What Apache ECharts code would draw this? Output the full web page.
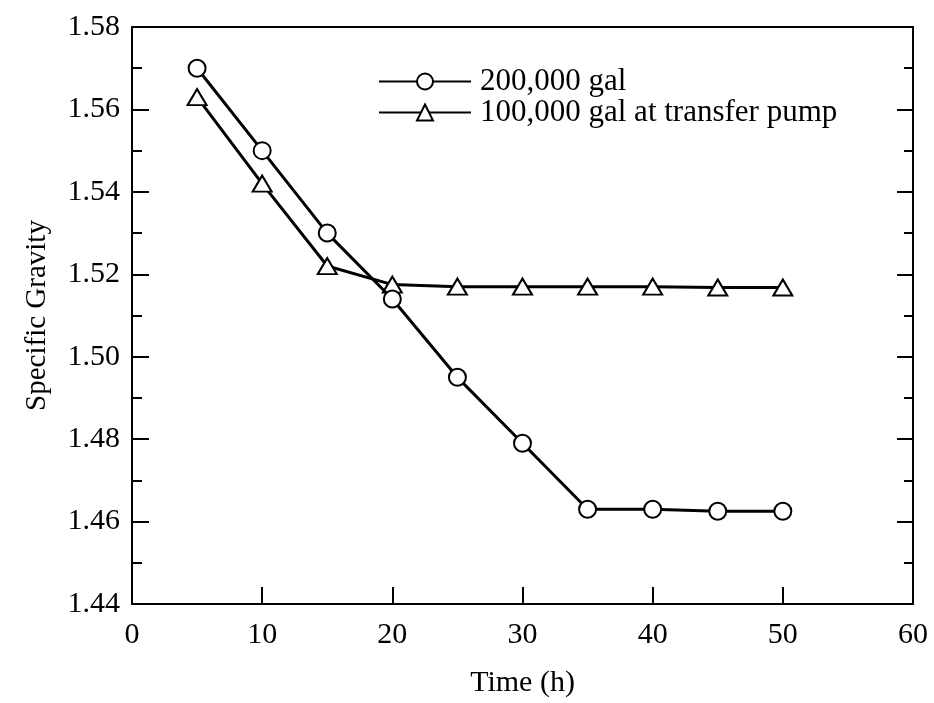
<!DOCTYPE html>
<html><head><meta charset="utf-8">
<script src="https://cdn.jsdelivr.net/npm/echarts@6/dist/echarts.min.js"></script>
<style>html,body{margin:0;padding:0;background:#fff}#c{width:934px;height:703px}</style>
</head><body><div id="c"></div>
<script>
var timeH = [5, 10, 15, 20, 25, 30, 35, 40, 45, 50];
var gal200k = [1.570, 1.550, 1.530, 1.514, 1.495, 1.479, 1.463, 1.463, 1.4625, 1.4625];
var gal100kPump = [1.563, 1.542, 1.522, 1.5175, 1.517, 1.517, 1.517, 1.517, 1.5168, 1.5168];
var seriesNames = ['200,000 gal', '100,000 gal at transfer pump'];

var font = 'Liberation Serif';
var chart = echarts.init(document.getElementById('c'));
function pairs(ys){ return timeH.map(function(x,i){return [x, ys[i]];}); }
var lineStyle = {color:'#000', width:3};
var itemStyle = {color:'#fff', borderColor:'#000', borderWidth:2};
var axLine = {show:true, onZero:false, lineStyle:{color:'#000', width:2}};
chart.setOption({
  animation:false,
  backgroundColor:'#fff',
  textStyle:{fontFamily:font},
  grid:{left:132, right:21, top:27, bottom:96},
  legend:{
    left:373, top:61, orient:'vertical', itemGap:0, itemWidth:92, itemHeight:20,
    textStyle:{fontFamily:font, fontSize:31, color:'#000', padding:[0,0,0,4]},
    data:seriesNames
  },
  xAxis:[{
    type:'value', min:0, max:60, interval:10,
    name:'Time (h)', nameLocation:'middle', nameGap:64,
    nameTextStyle:{fontFamily:font, fontSize:30, color:'#000'},
    axisLine:axLine,
    axisTick:{show:true, inside:true, length:17, lineStyle:{color:'#000', width:2}},
    axisLabel:{fontFamily:font, fontSize:30, color:'#000', margin:16},
    splitLine:{show:false}
  },{
    type:'value', position:'top', min:0, max:60, interval:10,
    axisLine:axLine,
    axisTick:{show:false}, axisLabel:{show:false}, splitLine:{show:false}
  }],
  yAxis:[{
    type:'value', min:1.44, max:1.58, interval:0.02,
    name:'Specific Gravity', nameLocation:'middle', nameGap:80, nameRotate:90,
    nameTextStyle:{fontFamily:font, fontSize:29, color:'#000'},
    axisLine:axLine,
    axisTick:{show:true, inside:true, length:17, lineStyle:{color:'#000', width:2}},
    minorTick:{show:true, splitNumber:2, length:10, lineStyle:{color:'#000', width:2}},
    axisLabel:{fontFamily:font, fontSize:30, color:'#000', margin:12,
      formatter:function(v){return v.toFixed(2);}},
    splitLine:{show:false}
  },{
    type:'value', position:'right', min:1.44, max:1.58, interval:0.02,
    axisLine:axLine,
    axisTick:{show:true, inside:true, length:16, lineStyle:{color:'#000', width:2}},
    minorTick:{show:true, splitNumber:2, length:9, lineStyle:{color:'#000', width:2}},
    axisLabel:{show:false}, splitLine:{show:false}
  }],
  series:[{
    name:seriesNames[0], type:'line', data:pairs(gal200k),
    symbol:'circle', symbolSize:17, lineStyle:lineStyle, itemStyle:itemStyle, z:3
  },{
    name:seriesNames[1], type:'line', data:pairs(gal100kPump),
    symbol:'triangle', symbolSize:[19,16], lineStyle:lineStyle, itemStyle:itemStyle, z:2
  }]
});
</script></body></html>
